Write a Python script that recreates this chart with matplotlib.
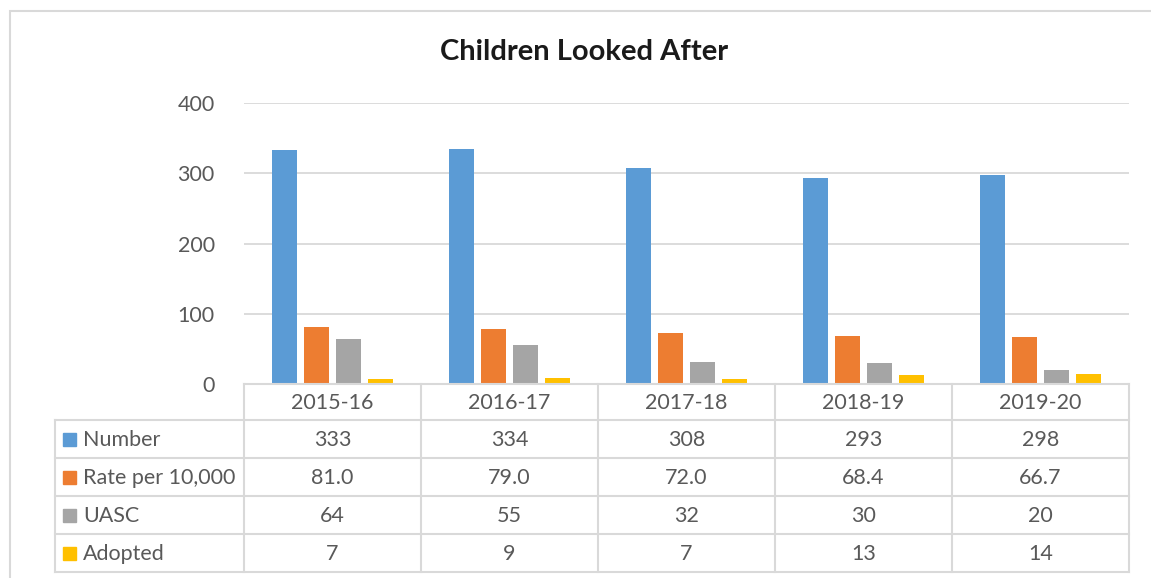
import matplotlib

matplotlib.use('Agg')

import matplotlib.pyplot as plt
from matplotlib.patches import Rectangle
import numpy as np

plt.rcParams['font.family'] = ['Lato', 'DejaVu Sans']

years = ['2015-16', '2016-17', '2017-18', '2018-19', '2019-20']
series_names = ['Number', 'Rate per 10,000', 'UASC', 'Adopted']
number = [333, 334, 308, 293, 298]
rate = [81.0, 79.0, 72.0, 68.4, 66.7]
uasc = [64, 55, 32, 30, 20]
adopted = [7, 9, 7, 13, 14]
colors = ['#5B9BD5', '#ED7D31', '#A5A5A5', '#FFC000']

W, H = 1151, 578
fig = plt.figure(figsize=(W / 100, H / 100), dpi=100)


def fx(px):
    return px / W


def fy(py):
    return 1 - py / H


# plot area in pixels
left, right, top, bottom = 244, 1129, 103, 384
ax = fig.add_axes([fx(left), fy(bottom), fx(right - left), (bottom - top) / H])

x = np.arange(len(years))
bw = 25 / 177
step = 32 / 177
all_series = [number, rate, uasc, adopted]
for i, (vals, c) in enumerate(zip(all_series, colors)):
    ax.bar(x + (i - 1.5) * step, vals, width=bw, color=c, zorder=3)

ax.set_xlim(-0.5, len(years) - 0.5)
ax.set_ylim(0, 400)
ax.set_yticks([0, 100, 200, 300, 400])
ax.yaxis.grid(True, color='#d9d9d9', linewidth=1.3)
ax.set_axisbelow(True)
ax.tick_params(axis='y', length=0, labelsize=15.5, labelcolor='#595959', pad=21)
ax.set_xticks([])
for s in ax.spines.values():
    s.set_visible(False)

fig.text(fx(584), fy(52), 'Children Looked After', ha='center', va='center',
         fontsize=21, fontweight='bold', color='#1a1a1a')

# outer chart border (runs off the right and bottom edges)
fig.add_artist(Rectangle((fx(10), fy(600)), fx(1160), (600 - 11) / H,
                         transform=fig.transFigure, fill=False,
                         edgecolor='#d9d9d9', linewidth=1.5))

# data table below the plot
line_c = '#d9d9d9'
row_h = 38
header_top = bottom
rows_top = 420
table_left = 55
col_w = (right - left) / len(years)
txt_c = '#595959'


def hline(y, x0, x1):
    fig.add_artist(plt.Line2D([fx(x0), fx(x1)], [fy(y), fy(y)],
                              transform=fig.transFigure, color=line_c, lw=1.5))


def vline(xp, y0, y1):
    fig.add_artist(plt.Line2D([fx(xp), fx(xp)], [fy(y0), fy(y1)],
                              transform=fig.transFigure, color=line_c, lw=1.5))


table_bottom = rows_top + row_h * len(series_names)
hline(header_top, left, right)
hline(rows_top, table_left, right)
for r in range(len(series_names)):
    hline(rows_top + row_h * (r + 1), table_left, right)
vline(table_left, rows_top, table_bottom)
for k in range(len(years) + 1):
    vline(left + k * col_w, header_top, table_bottom)

for k, yr in enumerate(years):
    fig.text(fx(left + (k + 0.5) * col_w), fy((header_top + rows_top) / 2 + 1), yr,
             ha='center', va='center', fontsize=15.5, color=txt_c)

fmt = ['{:d}', '{:.1f}', '{:d}', '{:d}']
for r, (name, vals, c, f) in enumerate(zip(series_names, all_series, colors, fmt)):
    yc = rows_top + row_h * (r + 0.5) + 1
    fig.add_artist(Rectangle((fx(63), fy(yc + 6)), fx(13), 13 / H,
                             transform=fig.transFigure, color=c))
    fig.text(fx(83), fy(yc), name, ha='left', va='center', fontsize=15.5, color=txt_c)
    for k, v in enumerate(vals):
        fig.text(fx(left + (k + 0.5) * col_w), fy(yc), f.format(v),
                 ha='center', va='center', fontsize=15.5, color=txt_c)

fig.savefig('out.png', dpi=100, facecolor='white')
